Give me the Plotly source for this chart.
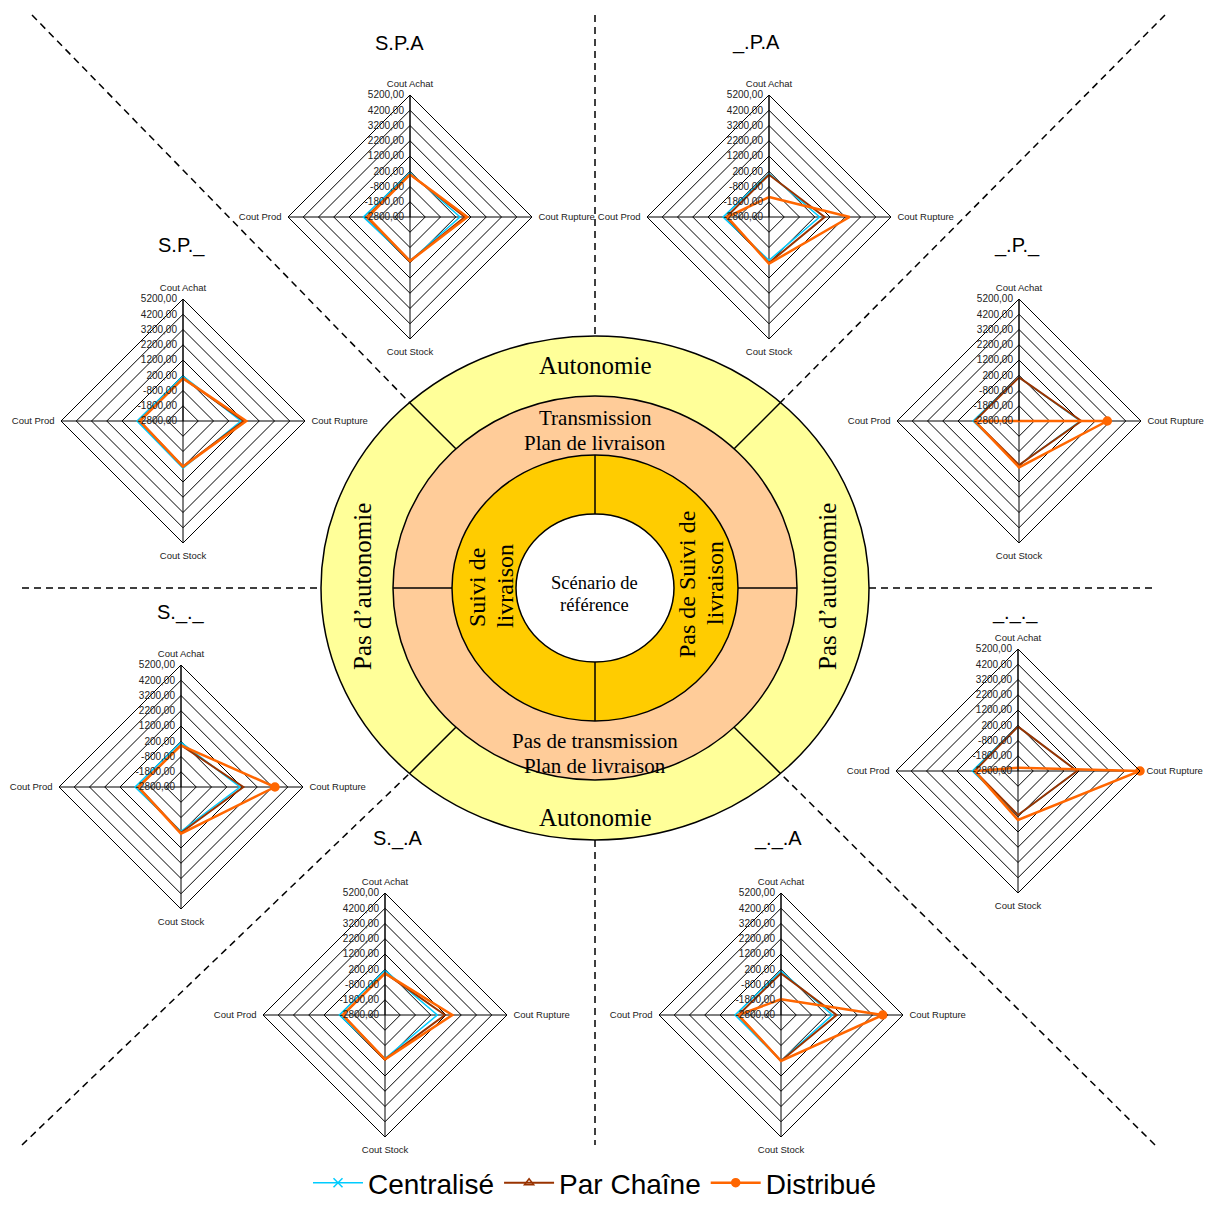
import math
import plotly.graph_objects as go

W, H = 1207, 1208

# ---------------- DATA ----------------
categories = ["Cout Achat", "Cout Rupture", "Cout Stock", "Cout Prod"]
scenarios = ["S.P.A", "_.P.A", "S.P._", "_.P._", "S._._", "_._._", "S._.A", "_._.A"]
series_names = ["Centralisé", "Par Chaîne", "Distribué"]

radial_ticks = [-2800, -1800, -800, 200, 1200, 2200, 3200, 4200, 5200]
radial_ticktext = ["-2800,00", "-1800,00", "-800,00", "200,00", "1200,00",
                   "2200,00", "3200,00", "4200,00", "5200,00"]

# values per scenario: [Cout Achat, Cout Rupture, Cout Stock, Cout Prod]
centralise = [
    [100, 480, 80, 260],
    [40, 520, 40, 215],
    [150, 1000, 300, 215],
    [60, 1220, 85, 215],
    [130, 1070, 100, 215],
    [110, 1070, 85, 195],
    [130, 630, 60, 195],
    [85, 570, 200, 215],
]
par_chaine = [
    [0, 800, 80, 40],
    [-25, 850, 215, 0],
    [0, 1180, 190, 40],
    [60, 1290, 85, 110],
    [-50, 1290, 200, 0],
    [110, 1070, 85, 45],
    [-50, 1130, 110, -25],
    [-68, 850, 215, 0],
]
distribue = [
    [-20, 960, 90, -25],
    [-1490, 2490, 260, -68],
    [-3, 1350, 190, 40],
    [-2800, 2990, 240, 110],
    [-68, 3360, 260, 0],
    [-2580, 5200, 410, 45],
    [-68, 1620, 110, -25],
    [-1770, 3870, 215, 0],
]

# ---------------- LAYOUT GEOMETRY (pixels) ----------------
chart_centers = [(410, 217), (769, 217), (183, 421), (1019, 421),
                 (181, 787), (1018, 771), (385, 1015), (781, 1015)]
chart_radius = 122
title_pos = [(399, 43), (756, 43), (181, 245), (1017, 245),
             (181, 612), (1015, 612), (398, 838), (778, 838)]

CX, CY = 595, 588
rings = [  # (a, b, fill)
    (274, 252, "#FFFF99"),
    (202, 192, "#FFCC99"),
    (143, 133, "#FFCC00"),
    (79, 74, "#FFFFFF"),
]

series_style = [
    dict(color="#00CCFF", width=1.5, symbol="x-thin-open", size=9),
    dict(color="#993300", width=2, symbol="triangle-up-open", size=8),
    dict(color="#FF6600", width=2.5, symbol="circle", size=8),
]
series_data = [centralise, par_chaine, distribue]


def px(x, y):
    return x / W, 1 - y / H


fig = go.Figure()
shapes = []
annotations = []

# --- central diagram ---
for a, b, fill in rings:
    shapes.append(dict(type="circle", xref="paper", yref="paper",
                       x0=(CX - a) / W, x1=(CX + a) / W,
                       y0=1 - (CY + b) / H, y1=1 - (CY - b) / H,
                       fillcolor=fill, line=dict(color="black", width=1.5),
                       layer="below"))


def ell_pt(a, b, sx, sy):
    r = 1 / math.sqrt(0.5 / a ** 2 + 0.5 / b ** 2)
    d = r / math.sqrt(2)
    return CX + sx * d, CY + sy * d


def seg(p0, p1, dash=None, width=1.5):
    x0, y0 = px(*p0)
    x1, y1 = px(*p1)
    ln = dict(color="black", width=width)
    if dash:
        ln["dash"] = dash
    shapes.append(dict(type="line", xref="paper", yref="paper",
                       x0=x0, y0=y0, x1=x1, y1=y1, line=ln, layer="below"))


# yellow ring diagonal dividers
for sx, sy in [(-1, -1), (1, -1), (-1, 1), (1, 1)]:
    seg(ell_pt(274, 252, sx, sy), ell_pt(202, 192, sx, sy))
# salmon ring horizontal dividers
seg((CX - 202, CY), (CX - 143, CY))
seg((CX + 143, CY), (CX + 202, CY))
# gold ring vertical dividers
seg((CX, CY - 133), (CX, CY - 74))
seg((CX, CY + 74), (CX, CY + 133))

# dashed separators
dash = "7px,5px"
seg((CX, 15), (CX, CY - 252), dash)
seg((CX, CY + 252), (CX, 1145), dash)
seg((22, CY), (CX - 274, CY), dash)
seg((CX + 274, CY), (1155, CY), dash)
seg((32, 15), ell_pt(274, 252, -1, -1), dash)
seg((1165, 15), ell_pt(274, 252, 1, -1), dash)
seg((22, 1145), ell_pt(274, 252, -1, 1), dash)
seg((1155, 1145), ell_pt(274, 252, 1, 1), dash)

serif = "Liberation Serif, Times New Roman, serif"
sans = "Liberation Sans, Arial, sans-serif"


def txt(x, y, s, size, angle=0, family=serif):
    xx, yy = px(x, y)
    annotations.append(dict(x=xx, y=yy, xref="paper", yref="paper", text=s,
                            showarrow=False, textangle=angle,
                            font=dict(family=family, size=size, color="black"),
                            xanchor="center", yanchor="middle"))


txt(595, 365, "Autonomie", 25)
txt(595, 817, "Autonomie", 25)
txt(362, 587, "Pas d’autonomie", 25, -90)
txt(827, 587, "Pas d’autonomie", 25, -90)
txt(595, 418, "Transmission", 21)
txt(595, 443, "Plan de livraison", 21)
txt(595, 741, "Pas de transmission", 21)
txt(595, 766, "Plan de livraison", 21)
txt(477, 588, "Suivi de", 24, -90)
txt(505, 586, "livraison", 24, -90)
txt(687, 585, "Pas de Suivi de", 24, -90)
txt(715, 583, "livraison", 24, -90)
txt(594, 583, "Scénario de", 18.5)
txt(594, 605, "référence", 18.5)

# --- radar charts ---
for i, name in enumerate(scenarios):
    cx, cy = chart_centers[i]
    pid = "polar" if i == 0 else f"polar{i + 1}"
    for s, sname in enumerate(series_names):
        vals = series_data[s][i]
        st = series_style[s]
        fig.add_trace(go.Scatterpolar(
            r=vals + [vals[0]], theta=categories + [categories[0]],
            mode="lines+markers", name=sname, subplot=pid,
            legendgroup=sname, showlegend=(i == 0),
            line=dict(color=st["color"], width=st["width"]),
            marker=dict(symbol=st["symbol"], size=st["size"], color=st["color"],
                        line=dict(color=st["color"], width=1.5)),
            cliponaxis=False,
        ))
    fig.layout[pid] = dict(
        domain=dict(x=[(cx - chart_radius) / W, (cx + chart_radius) / W],
                    y=[1 - (cy + chart_radius) / H, 1 - (cy - chart_radius) / H]),
        bgcolor="rgba(0,0,0,0)",
        gridshape="linear",
        radialaxis=dict(range=[-2800, 5200], tickvals=radial_ticks,
                        ticktext=radial_ticktext, angle=90, tickangle=90,
                        side="counterclockwise", showline=True,
                        linecolor="black", linewidth=1, gridcolor="black",
                        gridwidth=1, ticks="outside", ticklen=2,
                        tickcolor="rgba(0,0,0,0)",
                        tickfont=dict(family=sans, size=10, color="#222")),
        angularaxis=dict(categoryorder="array", categoryarray=categories,
                         direction="clockwise", rotation=90, showline=True,
                         linecolor="black", linewidth=1, gridcolor="black",
                         gridwidth=1, ticks="outside", ticklen=4,
                         tickcolor="rgba(0,0,0,0)",
                         tickfont=dict(family=sans, size=9.5, color="#222")),
    )
    tx, ty = title_pos[i]
    txt(tx, ty, name, 20, family=sans)

lx, _ = px(595, 1194)
fig.update_layout(
    width=W, height=H,
    margin=dict(l=0, r=0, t=0, b=0, autoexpand=False),
    paper_bgcolor="white", plot_bgcolor="white",
    shapes=shapes, annotations=annotations,
    showlegend=True,
    legend=dict(orientation="h", x=lx, y=0.0, xanchor="center", yanchor="bottom",
                font=dict(family=sans, size=28, color="black"),
                bgcolor="rgba(0,0,0,0)", itemwidth=50, borderwidth=0),
)

fig.write_html("out.html",
               post_script="document.body.style.margin='0px';"
                           "document.body.style.padding='0px';",
               config={"displayModeBar": False})
